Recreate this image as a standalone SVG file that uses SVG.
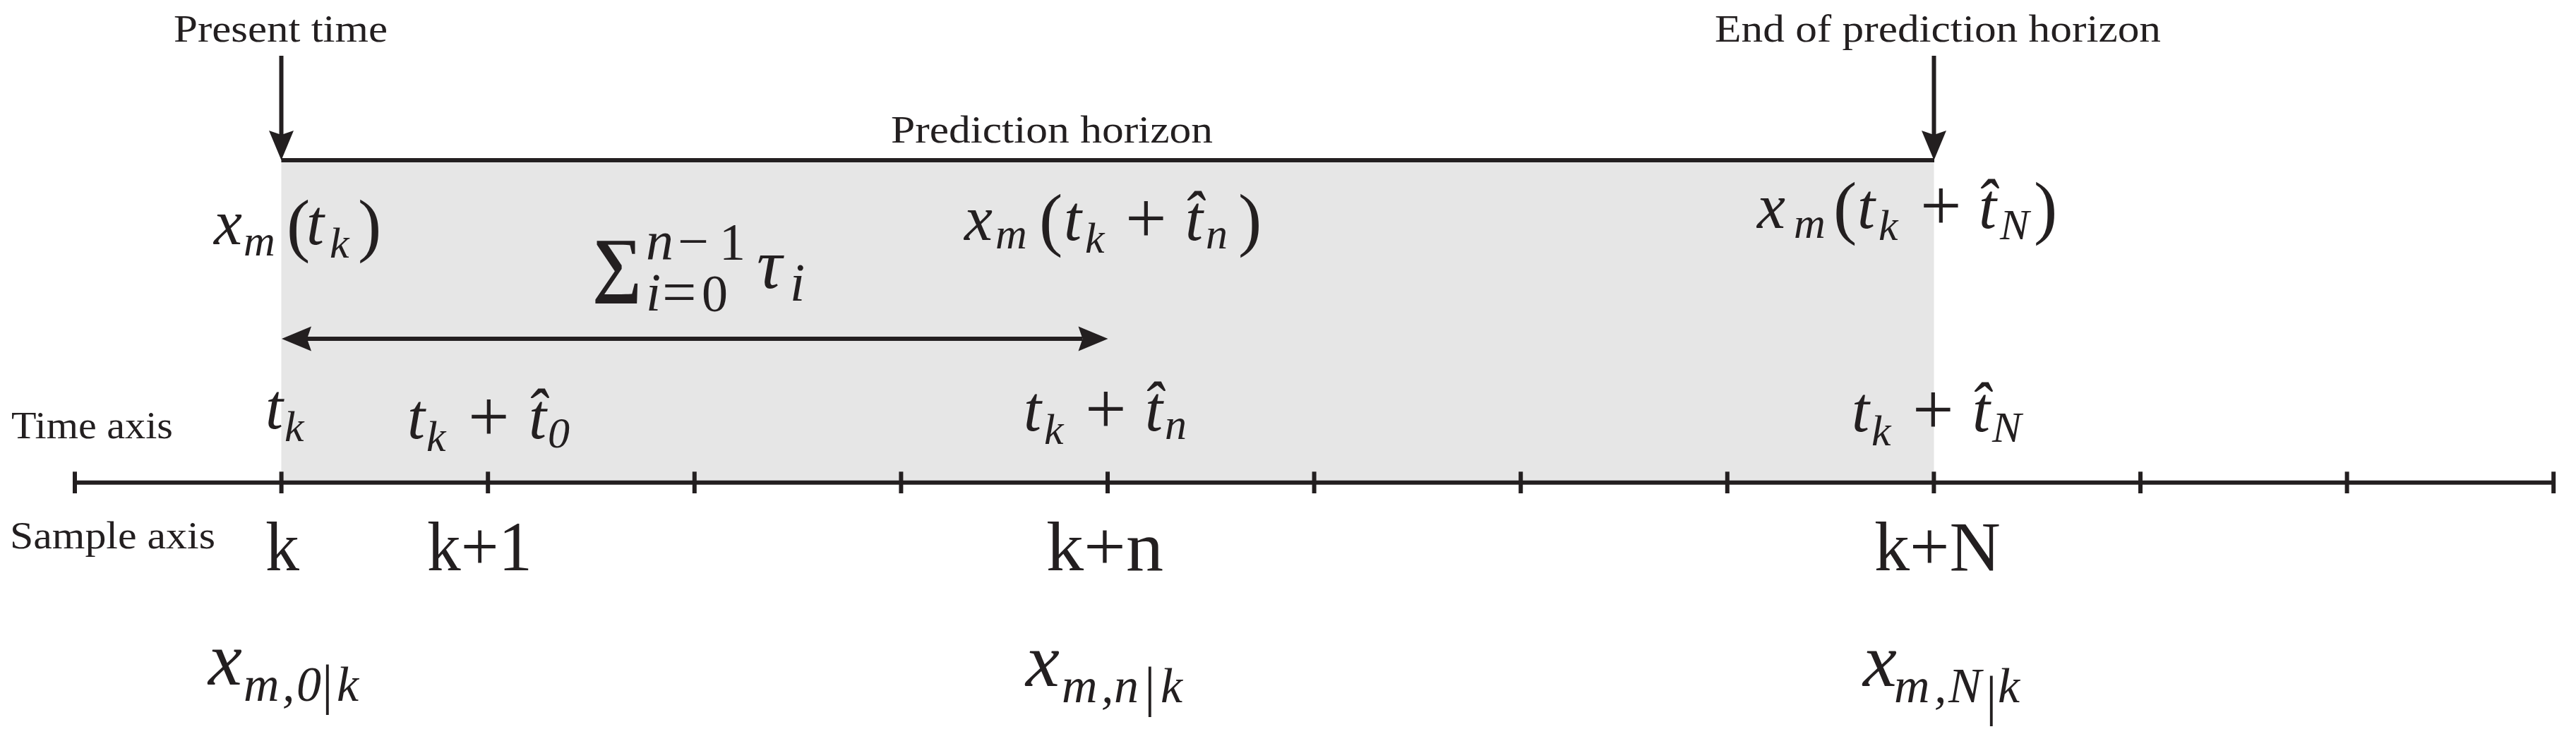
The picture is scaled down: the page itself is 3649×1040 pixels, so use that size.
<svg xmlns="http://www.w3.org/2000/svg" width="3649" height="1040" viewBox="0 0 3649 1040">
<style>
.lbl{font-family:"Liberation Serif",serif;font-size:55px;fill:#231f20}
.m{font-family:"Liberation Serif",serif;font-style:italic;fill:#231f20;font-size:90px}
.mb{font-family:"Liberation Serif",serif;font-style:italic;fill:#231f20;font-size:108px}
.s{font-size:62px}
.sb{font-size:70px}
.bar{font-size:78px;font-style:normal}
.par{font-size:100px;font-style:normal}
.pl{font-size:104px;font-style:normal}
.up{font-style:normal}
.smp{font-family:"Liberation Serif",serif;font-size:100px;fill:#231f20}
.ln{stroke:#231f20;stroke-width:6;fill:none}
.tk{stroke:#231f20;stroke-width:6}
</style>
<defs>
<marker id="ah" markerUnits="userSpaceOnUse" viewBox="-8 -20 48 40" markerWidth="48" markerHeight="40" refX="0" refY="0" orient="auto-start-reverse">
<path d="M36,0 L-6,-17.5 L0,0 L-6,17.5 Z" fill="#231f20"/>
</marker>
</defs>
<rect width="3649" height="1040" fill="#ffffff"/>
<g id="prediction-region">
<rect x="398.5" y="227" width="2341" height="456.7" fill="#e6e6e6"/>
</g>
<g id="time-axis">
<line class="ln" x1="103" y1="683.7" x2="3620" y2="683.7"/>
<g class="tk">
<line x1="106" y1="668.3" x2="106" y2="699"/>
<line x1="398.6" y1="668.3" x2="398.6" y2="699"/>
<line x1="691.2" y1="668.3" x2="691.2" y2="699"/>
<line x1="983.8" y1="668.3" x2="983.8" y2="699"/>
<line x1="1276.4" y1="668.3" x2="1276.4" y2="699"/>
<line x1="1569" y1="668.3" x2="1569" y2="699"/>
<line x1="1861.6" y1="668.3" x2="1861.6" y2="699"/>
<line x1="2154.2" y1="668.3" x2="2154.2" y2="699"/>
<line x1="2446.8" y1="668.3" x2="2446.8" y2="699"/>
<line x1="2739.4" y1="668.3" x2="2739.4" y2="699"/>
<line x1="3032" y1="668.3" x2="3032" y2="699"/>
<line x1="3324.6" y1="668.3" x2="3324.6" y2="699"/>
<line x1="3617.2" y1="668.3" x2="3617.2" y2="699"/>
</g>
</g>
<g id="connectors">
<line class="ln" x1="398.5" y1="227" x2="2740" y2="227"/>
<line class="ln" x1="398.5" y1="79" x2="398.5" y2="191" marker-end="url(#ah)"/>
<line class="ln" x1="2739.5" y1="79" x2="2739.5" y2="191" marker-end="url(#ah)"/>
<line class="ln" x1="435" y1="480" x2="1533.5" y2="480" marker-start="url(#ah)" marker-end="url(#ah)"/>
</g>
<g id="label-present-time"><text class="lbl" x="246" y="59" textLength="303" lengthAdjust="spacingAndGlyphs">Present time</text></g>
<g id="label-end-horizon"><text class="lbl" x="2429" y="59" textLength="632" lengthAdjust="spacingAndGlyphs">End of prediction horizon</text></g>
<g id="label-prediction-horizon"><text class="lbl" x="1262" y="202" textLength="456" lengthAdjust="spacingAndGlyphs">Prediction horizon</text></g>
<g id="label-time-axis"><text class="lbl" x="16" y="621" textLength="229" lengthAdjust="spacingAndGlyphs">Time axis</text></g>
<g id="label-sample-axis"><text class="lbl" x="14" y="777" textLength="291" lengthAdjust="spacingAndGlyphs">Sample axis</text></g>

<g id="state-now"><text class="m"><tspan x="303" y="346">x</tspan><tspan class="s" x="345" y="362">m</tspan><tspan class="par" x="406" y="352">(</tspan><tspan x="434" y="346">t</tspan><tspan class="s" x="467" y="365">k</tspan><tspan class="par" x="507" y="352">)</tspan></text></g>
<g id="state-n"><text class="m"><tspan x="1366" y="340">x</tspan><tspan class="s" x="1410" y="352">m</tspan><tspan class="par" x="1472" y="344">(</tspan><tspan x="1507" y="340">t</tspan><tspan class="s" x="1537" y="358">k</tspan><tspan class="pl" x="1594" y="344">+</tspan><tspan x="1679" y="340">t̂</tspan><tspan class="s" x="1708" y="352">n</tspan><tspan class="par" x="1754" y="344">)</tspan></text></g>
<g id="state-N"><text class="m"><tspan x="2489" y="323">x</tspan><tspan class="s" x="2541" y="337">m</tspan><tspan class="par" x="2597" y="327">(</tspan><tspan x="2631" y="323">t</tspan><tspan class="s" x="2661" y="340">k</tspan><tspan class="pl" x="2720" y="326">+</tspan><tspan x="2803" y="323">t̂</tspan><tspan class="s" x="2833" y="339">N</tspan><tspan class="par" x="2881" y="327">)</tspan></text></g>
<g id="sum-tau">
<text class="up" font-family="Liberation Serif, serif" font-weight="bold" font-size="102" fill="#231f20" x="839" y="408" textLength="70" lengthAdjust="spacingAndGlyphs">∑</text>
<text class="m"><tspan x="915" y="368" font-size="78">n</tspan><tspan class="up" x="960" y="368" font-size="78">−</tspan><tspan class="up" x="1019" y="368" font-size="74">1</tspan><tspan x="915" y="440" font-size="76">i</tspan><tspan class="up" x="938" y="443" font-size="86">=</tspan><tspan class="up" x="994" y="441" font-size="74">0</tspan><tspan x="1072" y="408" font-size="100">τ</tspan><tspan x="1119" y="426" font-size="76">i</tspan></text>
</g>

<g id="time-tk"><text class="m"><tspan x="376" y="607">t</tspan><tspan class="s" x="403" y="625">k</tspan></text></g>
<g id="time-t0"><text class="m"><tspan x="577" y="620.5">t</tspan><tspan class="s" x="604" y="639">k</tspan><tspan class="pl" x="663" y="625">+</tspan><tspan x="749" y="620.5">t̂</tspan><tspan class="s" x="776" y="634">0</tspan></text></g>
<g id="time-tn"><text class="m"><tspan x="1450" y="610">t</tspan><tspan class="s" x="1479" y="629">k</tspan><tspan class="pl" x="1537" y="614">+</tspan><tspan x="1622" y="610">t̂</tspan><tspan class="s" x="1650" y="622">n</tspan></text></g>
<g id="time-tN"><text class="m"><tspan x="2623" y="611">t</tspan><tspan class="s" x="2651" y="631">k</tspan><tspan class="pl" x="2709" y="615">+</tspan><tspan x="2794" y="611">t̂</tspan><tspan class="s" x="2822" y="626">N</tspan></text></g>

<g id="sample-k"><text class="smp" x="376" y="808" textLength="48" lengthAdjust="spacingAndGlyphs">k</text></g>
<g id="sample-k1"><text class="smp" x="605" y="808" textLength="149" lengthAdjust="spacingAndGlyphs">k+1</text></g>
<g id="sample-kn"><text class="smp" x="1482" y="808" textLength="166" lengthAdjust="spacingAndGlyphs">k+n</text></g>
<g id="sample-kN"><text class="smp" x="2655" y="808" textLength="179" lengthAdjust="spacingAndGlyphs">k+N</text></g>

<g id="pred-0"><text class="mb"><tspan x="295" y="970">x</tspan><tspan class="sb" x="345" y="993">m</tspan><tspan class="sb" x="400" y="993">,</tspan><tspan class="sb" x="420" y="993">0</tspan><tspan class="bar" x="456" y="996">|</tspan><tspan class="sb" x="477" y="993">k</tspan></text></g>
<g id="pred-n"><text class="mb"><tspan x="1453" y="972">x</tspan><tspan class="sb" x="1504" y="995">m</tspan><tspan class="sb" x="1560" y="995">,</tspan><tspan class="sb" x="1578" y="995">n</tspan><tspan class="bar" x="1621" y="999">|</tspan><tspan class="sb" x="1644" y="995">k</tspan></text></g>
<g id="pred-N"><text class="mb"><tspan x="2639" y="972">x</tspan><tspan class="sb" x="2683" y="995">m</tspan><tspan class="sb" x="2740" y="995">,</tspan><tspan class="sb" x="2760" y="995">N</tspan><tspan class="bar" x="2813" y="1012">|</tspan><tspan class="sb" x="2830" y="995">k</tspan></text></g>
</svg>
